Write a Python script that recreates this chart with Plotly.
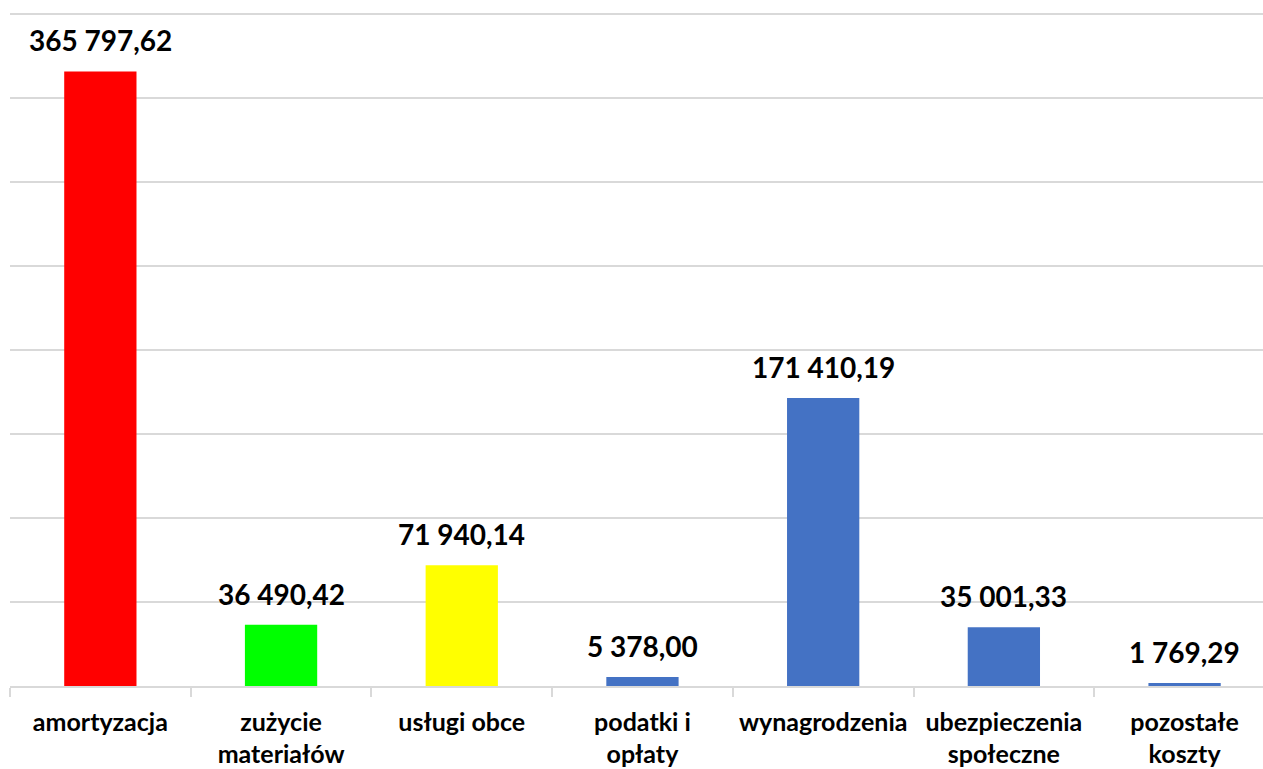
import plotly.graph_objects as go

kategorie = ["amortyzacja", "zużycie<br>materiałów", "usługi obce", "podatki i<br>opłaty",
             "wynagrodzenia", "ubezpieczenia<br>społeczne", "pozostałe<br>koszty"]
wartosci = [365797.62, 36490.42, 71940.14, 5378.00, 171410.19, 35001.33, 1769.29]
kolory = ["#FF0000", "#00FF00", "#FFFF00", "#4472C4", "#4472C4", "#4472C4", "#4472C4"]


def format_pl(v):  # 365797.62 -> "365 797,62"
    return f"{v:,.2f}".replace(",", " ").replace(".", ",")


fig = go.Figure(go.Bar(
    x=kategorie,
    y=wartosci,
    marker=dict(color=kolory, line=dict(width=0)),
    width=0.4,
))

for k, v in zip(kategorie, wartosci):
    fig.add_annotation(
        x=k, y=v, text=f"<b>{format_pl(v)}</b>",
        showarrow=False, yanchor="bottom", yshift=12,
        font=dict(family="Lato", size=28, color="black"),
    )

fig.update_layout(
    width=1263, height=769,
    margin=dict(l=10, r=0, t=12, b=83),
    plot_bgcolor="white", paper_bgcolor="white",
    showlegend=False,
    xaxis=dict(
        range=[-0.5, 6.434],
        tickson="boundaries", ticks="outside", ticklen=9, tickcolor="#d9d9d9", tickwidth=1.5,
        showline=True, linecolor="#d9d9d9", linewidth=1.5,
        showgrid=False, automargin=False,
        tickfont=dict(family="Lato", size=25, color="black", weight="bold"),
        ticklabelstandoff=13,
    ),
    yaxis=dict(
        range=[0, 401190], tick0=0, dtick=50000,
        showgrid=True, gridcolor="#d9d9d9", gridwidth=1.5,
        showticklabels=False, zeroline=False,
    ),
)

# bez domyślnego marginesu strony (8px)
fig.write_html("out.html", config={"displayModeBar": False},
               post_script="document.body.style.margin='0';")
